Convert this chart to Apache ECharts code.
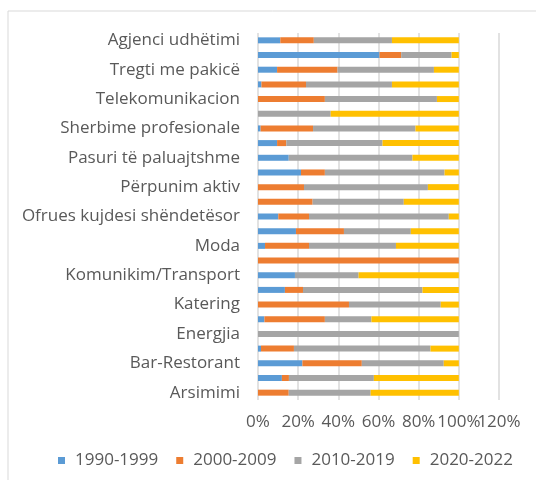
<!DOCTYPE html>
<html>
<head>
<meta charset="utf-8">
<script src="https://cdn.jsdelivr.net/npm/echarts@6/dist/echarts.min.js"></script>
<style>
  html, body { margin: 0; padding: 0; background: #fff; }
  #chart { width: 536px; height: 480px; }
</style>
</head>
<body>
<div id="chart"></div>
<script>
// categories, top to bottom (only every other one is labelled)
const sectors = [
  'Agjenci udhëtimi', 'Turizëm', 'Tregti me pakicë', 'Tregti me shumicë',
  'Telekomunikacion', 'Teknologji informacioni', 'Sherbime profesionale',
  'Sherbime financiare', 'Pasuri të paluajtshme', 'Prodhim', 'Përpunim aktiv',
  'Ndërtim', 'Ofrues kujdesi shëndetësor', 'Media', 'Moda', 'Marketing',
  'Komunikim/Transport', 'Konsulencë', 'Katering', 'Hoteleri', 'Energjia',
  'Dizajn', 'Bar-Restorant', 'Bujqësi', 'Arsimimi'
];

const periods = ['1990-1999', '2000-2009', '2010-2019', '2020-2022'];

// shares in percent
const share1990 = [11.1, 60.5, 9.5, 1.7, 0, 0, 1.3, 9.5, 15.3, 21.4, 0, 0, 10.1, 18.9, 3.5, 0, 18.4, 13.4, 0, 3.2, 0, 1.5, 22.1, 11.9, 0];
const share2000 = [16.7, 10.8, 30.1, 22.2, 33.3, 0, 26.1, 4.6, 0, 11.9, 22.9, 27.2, 15.3, 23.9, 21.9, 100, 0, 9.0, 45.3, 30.1, 0, 16.4, 29.6, 3.5, 15.3];
const share2010 = [38.9, 25.1, 48.0, 42.8, 55.8, 36.2, 51.0, 47.9, 61.6, 59.6, 61.7, 45.4, 69.6, 33.3, 43.3, 0, 31.7, 59.5, 45.7, 23.2, 100, 68.0, 40.8, 42.3, 40.8];
const share2020 = [33.3, 3.6, 12.4, 33.3, 10.9, 63.8, 21.6, 38.0, 23.1, 7.1, 15.4, 27.4, 5.0, 23.9, 31.3, 0, 49.9, 18.1, 9.0, 43.5, 0, 14.1, 7.5, 42.3, 43.9];

const colors = ['#5b9bd5', '#ed7d31', '#a5a5a5', '#ffc000'];
const textColor = '#595959';
const fontFamily = '"Open Sans", sans-serif';

const chart = echarts.init(document.getElementById('chart'));

const seriesData = [share1990, share2000, share2010, share2020];

// the tick labels touch each other, so they are split over two
// overlaid axes to stop echarts from hiding any of them
function tickAxis(showEven, withGrid) {
  return {
    type: 'value',
    position: 'bottom',
    min: 0,
    max: 120,
    interval: 20,
    axisLine: { show: false },
    axisTick: { show: false },
    splitLine: { show: withGrid, lineStyle: { color: '#d9d9d9', width: 1.5 } },
    axisLabel: {
      formatter: (v) => ((v / 20) % 2 === 0) === showEven ? v + '%' : '',
      color: textColor,
      fontSize: 17,
      fontFamily: fontFamily,
      margin: 14,
      showMaxLabel: true,
      showMinLabel: true
    }
  };
}

const option = {
  animation: false,
  color: colors,
  graphic: [
    {
      type: 'rect',
      shape: { x: 8, y: 11, width: 600, height: 600 },
      style: { fill: 'none', stroke: '#d9d9d9', lineWidth: 1 }
    }
  ],
  legend: {
    data: periods,
    left: 53,
    top: 447,
    itemWidth: 7,
    itemHeight: 7,
    itemGap: 18,
    icon: 'rect',
    textStyle: {
      color: textColor,
      fontSize: 17,
      fontFamily: fontFamily,
      padding: [0, 0, 0, 5]
    }
  },
  grid: {
    left: 258,
    right: 37,
    top: 33,
    bottom: 80
  },
  xAxis: [tickAxis(true, true), tickAxis(false, false)],
  yAxis: {
    type: 'category',
    data: sectors,
    inverse: true,
    axisLine: { show: false },
    axisTick: { show: false },
    axisLabel: {
      interval: 1,
      color: textColor,
      fontSize: 17,
      fontFamily: fontFamily,
      margin: 18
    }
  },
  series: periods.map((name, i) => ({
    name: name,
    type: 'bar',
    stack: 'total',
    barWidth: 6,
    xAxisIndex: 0,
    data: seriesData[i]
  }))
};

chart.setOption(option);
</script>
</body>
</html>
